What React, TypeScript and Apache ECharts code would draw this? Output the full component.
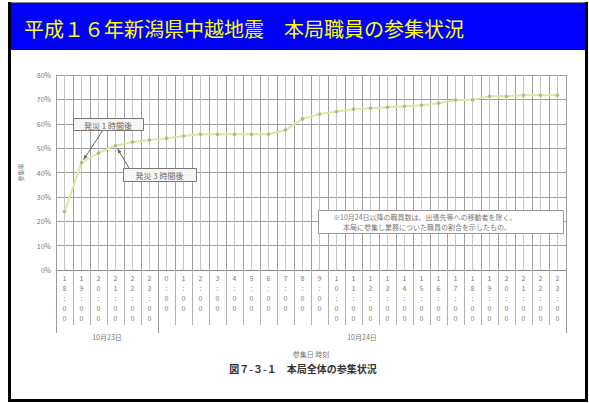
import React, { useEffect, useRef } from "react";
import * as echarts from "echarts";

const titleText = "平成１６年新潟県中越地震　本局職員の参集状況";
const dateGroups = ["10月23日", "10月24日"];
const groupSizes = [6, 24];
const categories = [
  "18:00", "19:00", "20:00", "21:00", "22:00", "23:00",
  "0:00", "1:00", "2:00", "3:00", "4:00", "5:00", "6:00", "7:00", "8:00", "9:00",
  "10:00", "11:00", "12:00", "13:00", "14:00", "15:00", "16:00", "17:00",
  "18:00", "19:00", "20:00", "21:00", "22:00", "23:00",
];
const rates = [
  24, 44, 48, 51, 52.5, 53.3, 54, 55, 55.7, 55.7, 55.7, 55.7, 55.7, 57.4, 62,
  64, 65, 66, 66.4, 66.8, 67.2, 67.6, 68.4, 69.7, 69.8, 71.3, 71.3, 71.7, 71.7, 71.7,
];
const yMin = 0;
const yMax = 80;
const yStep = 10;
const yName = "参集率";
const xName = "参集日 時刻";
const caption = "図７-３-１　本局全体の参集状況";
const callouts = ["発災 1 時間後", "発災 3 時間後"];
const calloutIndex = [1, 3];
const noteLines = [
  "※10月24日以降の職員数は、出張先等への移動者を除く。",
  "本局に参集し業務についた職員の割合を示したもの。",
];

const FONT = '"Noto Sans CJK JP", "Noto Sans", sans-serif';

export default function App() {
  const ref = useRef<HTMLDivElement>(null);
  useEffect(() => {
    const chart = echarts.init(ref.current!, null, { renderer: "svg" });
    chart.setOption({
      animation: false,
      backgroundColor: "#ffffff",
      grid: { left: 56, top: 75, width: 510, height: 195, containLabel: false },
      xAxis: [
        {
          type: "category",
          data: categories,
          boundaryGap: true,
          z: 1,
          axisLine: { lineStyle: { color: "#8a8a8a", width: 1 } },
          axisTick: { show: true, length: 55, interval: 0, lineStyle: { color: "#b0b0b0" } },
          axisLabel: {
            interval: 0,
            formatter: (v: string) => v.split("").join("\n"),
            fontSize: 7,
            lineHeight: 10,
            color: "#7a7a7a",
            margin: 3,
            verticalAlign: "top",
            fontFamily: FONT,
          },
          splitLine: { show: true, interval: 0, lineStyle: { color: "#9e9e9e" } },
          name: xName,
          nameLocation: "middle",
          nameGap: 80,
          nameTextStyle: { fontSize: 7, color: "#777", fontFamily: FONT },
        },
        {
          type: "value",
          position: "top",
          min: 0,
          max: categories.length * 2,
          interval: 1,
          z: 0,
          axisLine: { show: false },
          axisTick: { show: false },
          axisLabel: { show: false },
          splitLine: { show: true, lineStyle: { color: "#c4c4c4" } },
        },
      ],
      yAxis: {
        type: "value",
        min: yMin,
        max: yMax,
        interval: yStep,
        axisLine: { show: true, lineStyle: { color: "#8a8a8a" } },
        axisTick: { show: false },
        axisLabel: {
          formatter: "{value}%",
          fontSize: 7,
          color: "#7a7a7a",
          margin: 5,
          fontFamily: FONT,
        },
        splitLine: { show: true, lineStyle: { color: "#9e9e9e" } },
        name: yName,
        nameLocation: "middle",
        nameRotate: 90,
        nameGap: 33,
        nameTextStyle: { fontSize: 6, color: "#777", fontFamily: FONT },
      },
      series: [
        {
          type: "line",
          data: rates,
          xAxisIndex: 0,
          yAxisIndex: 0,
          symbol: "circle",
          symbolSize: 3.5,
          lineStyle: { color: "#dce89a", width: 2 },
          itemStyle: { color: "#b0b694" },
          z: 3,
        },
      ],
    });

    const px = (i: number, v: number) =>
      chart.convertToPixel({ xAxisIndex: 0, yAxisIndex: 0 }, [i, v]) as number[];
    const c0 = px(0, 0);
    const band = px(1, 0)[0] - c0[0];
    const y0 = c0[1];
    const boundary = (i: number) => c0[0] + band * (i - 0.5);

    const graphics: any[] = [];
    graphics.push({
      type: "rect",
      shape: { x: 10, y: 3, width: 576, height: 47 },
      style: { fill: "#0000ff" },
      z: 20,
    });
    graphics.push({
      type: "text",
      x: 24,
      y: 28,
      style: { text: titleText, fill: "#ffff00", fontSize: 20, fontFamily: FONT, verticalAlign: "middle" },
      z: 21,
    });
    graphics.push({ type: "line", shape: { x1: 8, y1: 2.5, x2: 588, y2: 2.5 }, style: { stroke: "#888", lineWidth: 1 }, z: 22 });
    graphics.push({ type: "line", shape: { x1: 9.5, y1: 2, x2: 9.5, y2: 402 }, style: { stroke: "#000", lineWidth: 3 }, z: 22 });
    graphics.push({ type: "line", shape: { x1: 586.5, y1: 2, x2: 586.5, y2: 402 }, style: { stroke: "#000", lineWidth: 3 }, z: 22 });
    graphics.push({ type: "line", shape: { x1: 8, y1: 400.5, x2: 588, y2: 400.5 }, style: { stroke: "#000", lineWidth: 3 }, z: 22 });

    let start = 0;
    const bounds = [0];
    groupSizes.forEach((n) => { start += n; bounds.push(start); });
    bounds.forEach((b) => {
      const x = Math.round(boundary(b)) + 0.5;
      graphics.push({ type: "line", shape: { x1: x, y1: y0, x2: x, y2: y0 + 63 }, style: { stroke: "#9a9a9a", lineWidth: 1 }, z: 5 });
    });
    dateGroups.forEach((d, g) => {
      const xm = (boundary(bounds[g]) + boundary(bounds[g + 1])) / 2;
      graphics.push({
        type: "text",
        x: xm,
        y: y0 + 67,
        style: { text: d, fill: "#777", fontSize: 7, fontFamily: FONT, align: "center", verticalAlign: "middle" },
        z: 5,
      });
    });

    graphics.push({
      type: "text",
      x: 303,
      y: 368,
      style: { text: caption, fill: "#333", fontSize: 10, fontFamily: FONT, fontWeight: "bold", align: "center", verticalAlign: "middle" },
      z: 5,
    });

    graphics.push({
      type: "rect",
      shape: { x: 318.5, y: 210.5, width: 245, height: 23 },
      style: { fill: "#ffffff", stroke: "#9a9a9a", lineWidth: 1 },
      z: 10,
    });
    noteLines.forEach((t, k) => {
      graphics.push({
        type: "text",
        x: 333 + k * 10,
        y: 217 + k * 10,
        style: { text: t, fill: "#777", fontSize: 7, fontFamily: FONT, verticalAlign: "middle" },
        z: 11,
      });
    });

    const boxes = [
      { x: 73, y: 118, w: 70, h: 12, ax: 103, ay: 130, dx: 2, dy: -3 },
      { x: 123, y: 168, w: 73, h: 13, ax: 129, ay: 168, dx: 2, dy: 3 },
    ];
    boxes.forEach((b, k) => {
      const p = px(calloutIndex[k], rates[calloutIndex[k]]);
      const tx = p[0] + b.dx;
      const ty = p[1] + b.dy;
      graphics.push({ type: "line", shape: { x1: b.ax, y1: b.ay, x2: tx, y2: ty }, style: { stroke: "#666", lineWidth: 1 }, z: 12 });
      const ang = Math.atan2(ty - b.ay, tx - b.ax);
      const s = 5;
      graphics.push({
        type: "polygon",
        shape: {
          points: [
            [tx, ty],
            [tx - s * Math.cos(ang - 0.4), ty - s * Math.sin(ang - 0.4)],
            [tx - s * Math.cos(ang + 0.4), ty - s * Math.sin(ang + 0.4)],
          ],
        },
        style: { fill: "#666" },
        z: 12,
      });
      graphics.push({
        type: "rect",
        shape: { x: b.x + 0.5, y: b.y + 0.5, width: b.w, height: b.h },
        style: { fill: "#f6f6f2", stroke: "#777", lineWidth: 1 },
        z: 13,
      });
      graphics.push({
        type: "text",
        x: b.x + b.w / 2,
        y: b.y + b.h / 2 + 1,
        style: { text: callouts[k], fill: "#666", fontSize: 8, fontFamily: FONT, align: "center", verticalAlign: "middle" },
        z: 14,
      });
    });

    chart.setOption({ graphic: { elements: graphics } });
    return () => chart.dispose();
  }, []);
  return (
    <div
      ref={ref}
      style={{ position: "absolute", left: 0, top: 0, width: 589, height: 403 }}
    />
  );
}
